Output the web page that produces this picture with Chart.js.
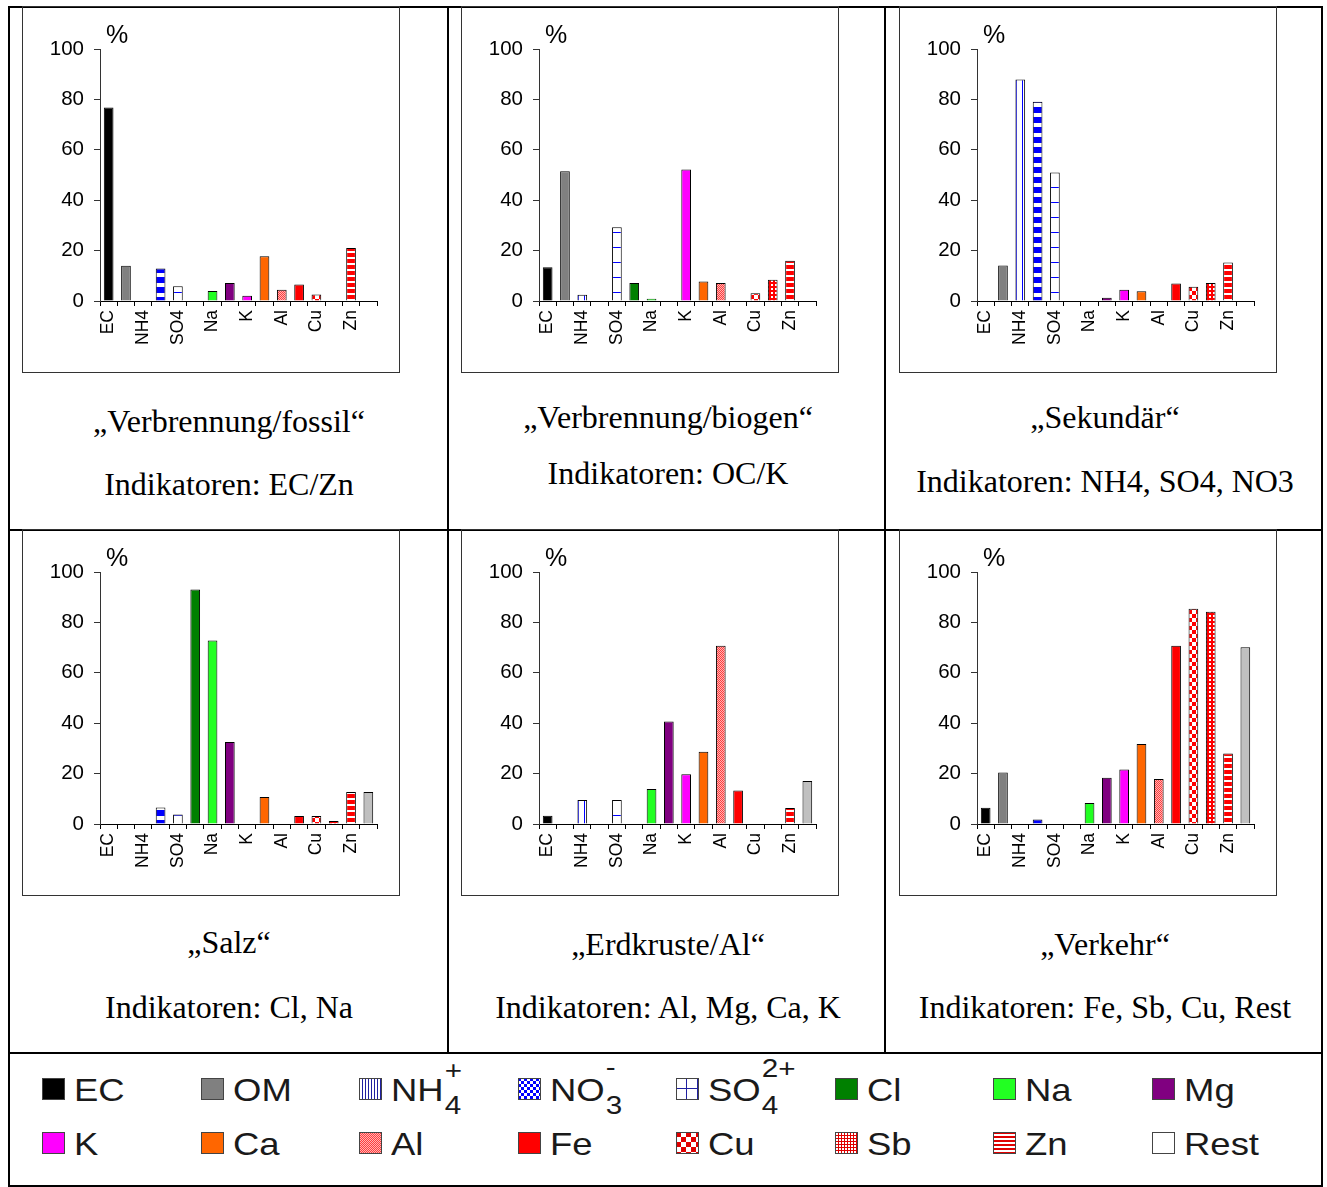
<!DOCTYPE html>
<html>
<head>
<meta charset="utf-8">
<script src="https://cdn.jsdelivr.net/npm/chart.js@4.4.1/dist/chart.umd.min.js"></script>
<style>
body { margin: 0; background: #fff; width: 1327px; height: 1187px; position: relative; overflow: hidden; font-family: "Liberation Sans", Arial, sans-serif; }
.frame { position: absolute; left: 8px; top: 6px; width: 1311px; height: 1177px; border: 2px solid #000; }
.line { position: absolute; background: #000; }
.box { position: absolute; border: 1px solid #333; }
.box canvas { display: block; }
.cap { position: absolute; width: 436px; text-align: center; font-family: "Liberation Serif", "Times New Roman", serif; font-size: 32px; line-height: 32px; color: #000; white-space: nowrap; }
.sw { position: absolute; }
.lt { position: absolute; font-size: 32px; line-height: 32px; color: #1a1a1a; white-space: nowrap; transform: scaleX(1.14); transform-origin: 0 0; }
.ss { position: relative; display: inline-block; width: 18px; height: 1px; }
.ss span { position: absolute; left: 1px; font-size: 26px; line-height: 26px; }
</style>
</head>
<body>
<div class="frame"></div>
<div class="line" style="left:447px;top:6px;width:2px;height:1048px"></div>
<div class="line" style="left:884px;top:6px;width:2px;height:1048px"></div>
<div class="line" style="left:8px;top:529px;width:1315px;height:2px"></div>
<div class="line" style="left:8px;top:1052px;width:1315px;height:2px"></div>
<div id="root"></div>
<script>
const categories = ['EC', 'OM', 'NH4', 'NO3', 'SO4', 'Cl', 'Na', 'Mg', 'K', 'Ca', 'Al', 'Fe', 'Cu', 'Sb', 'Zn', 'Rest']
const tickLabels = ['EC', '', 'NH4', '', 'SO4', '', 'Na', '', 'K', '', 'Al', '', 'Cu', '', 'Zn', '']
const yTicks = [0, 20, 40, 60, 80, 100]

// Anteile in %, null = kein Balken
const fossil    = [76.8, 14.0, null, 12.9, 5.9, null, 4.0, 7.1, 2.1, 17.8, 4.5, 6.5, 2.6, null, 21.0, null]
const biogen    = [13.4, 51.5, 2.5, null, 29.3, 7.1, 0.9, null, 52.2, 7.7, 7.1, null, 3.1, 8.4, 16.0, null]
const sekundaer = [null, 14.1, 87.9, 79.1, 51.0, null, null, 1.3, 4.5, 3.9, null, 6.9, 5.7, 7.1, 15.3, null]
const salz      = [null, null, null, 6.5, 3.8, 93.1, 72.8, 32.5, null, 10.7, null, 3.2, 3.2, 1.2, 12.7, 12.7]
const erdkruste = [3.3, null, 9.5, null, 9.5, null, 13.9, 40.7, 19.7, 28.7, 70.7, 13.3, null, null, 6.3, 17.1]
const verkehr   = [6.4, 20.4, null, 1.8, null, null, 8.3, 18.4, 21.6, 31.7, 17.9, 70.7, 85.4, 84.2, 28.0, 70.1]

function makePattern(w, h, draw) {
    const c = document.createElement('canvas')
    c.width = w; c.height = h
    const g = c.getContext('2d')
    draw(g, w, h)
    return g.createPattern(c, 'repeat')
}

const BLUE = '#0000ff', RED = '#ff0000'
const pat = {
    NH4: makePattern(6, 6, (g) => { g.fillStyle = '#fff'; g.fillRect(0, 0, 6, 6); g.fillStyle = BLUE; g.fillRect(2, 0, 1, 6) }),
    NO3: makePattern(4, 10, (g) => { g.fillStyle = '#fff'; g.fillRect(0, 0, 4, 10); g.fillStyle = BLUE; g.fillRect(0, 0, 4, 6) }),
    SO4: makePattern(15, 15, (g) => { g.fillStyle = '#fff'; g.fillRect(0, 0, 15, 15); g.fillStyle = BLUE; g.fillRect(0, 0, 15, 1); g.fillRect(0, 0, 1, 15) }),
    Al: makePattern(2, 2, (g) => { g.fillStyle = '#ffb4b4'; g.fillRect(0, 0, 2, 2); g.fillStyle = '#ff3c3c'; g.fillRect(0, 0, 1, 1); g.fillRect(1, 1, 1, 1) }),
    Cu: makePattern(8, 8, (g) => { g.fillStyle = '#fff'; g.fillRect(0, 0, 8, 8); g.fillStyle = RED; g.fillRect(0, 0, 4, 4); g.fillRect(4, 4, 4, 4) }),
    Sb: makePattern(4, 4, (g) => { g.fillStyle = RED; g.fillRect(0, 0, 4, 4); g.fillStyle = '#fff'; g.fillRect(1, 1, 2, 2) }),
    Zn: makePattern(4, 6, (g) => { g.fillStyle = '#fff'; g.fillRect(0, 0, 4, 6); g.fillStyle = RED; g.fillRect(0, 0, 4, 4) }),
}

const fills = {
    EC: '#000000', OM: '#808080', NH4: pat.NH4, NO3: pat.NO3, SO4: pat.SO4, Cl: '#008000',
    Na: '#22ff22', Mg: '#800080', K: '#ff00ff', Ca: '#ff6600', Al: pat.Al, Fe: '#ff0000',
    Cu: pat.Cu, Sb: pat.Sb, Zn: pat.Zn, Rest: '#c0c0c0'
}

const panels = [
    { x: 23,  y: 7,   values: fossil,    t1: '„Verbrennung/fossil“', t2: 'Indikatoren: EC/Zn',             cx: 9,   y1: 422, y2: 485 },
    { x: 462, y: 7,   values: biogen,    t1: '„Verbrennung/biogen“', t2: 'Indikatoren: OC/K',              cx: 448, y1: 418, y2: 474 },
    { x: 900, y: 7,   values: sekundaer, t1: '„Sekundär“',           t2: 'Indikatoren: NH4, SO4, NO3',     cx: 885, y1: 418, y2: 482 },
    { x: 23,  y: 530, values: salz,      t1: '„Salz“',               t2: 'Indikatoren: Cl, Na',            cx: 9,   y1: 943, y2: 1008 },
    { x: 462, y: 530, values: erdkruste, t1: '„Erdkruste/Al“',       t2: 'Indikatoren: Al, Mg, Ca, K',     cx: 448, y1: 945, y2: 1008 },
    { x: 900, y: 530, values: verkehr,   t1: '„Verkehr“',            t2: 'Indikatoren: Fe, Sb, Cu, Rest',  cx: 885, y1: 945, y2: 1008 },
]

const percentPlugin = {
    id: 'percentLabel',
    afterDraw(chart) {
        const { ctx, chartArea } = chart
        ctx.save()
        ctx.fillStyle = '#000'
        ctx.font = '25px "Liberation Sans", Arial, sans-serif'
        ctx.textBaseline = 'alphabetic'
        ctx.fillText('%', chartArea.left + 6, chartArea.top - 6)
        ctx.restore()
    }
}

const root = document.getElementById('root')
const W = 376, H = 365, PLOT_TOP = 42, PLOT_H = 252

panels.forEach((p) => {
    const box = document.createElement('div')
    box.className = 'box'
    box.style.left = (p.x - 1) + 'px'
    box.style.top = (p.y - 1) + 'px'
    const cv = document.createElement('canvas')
    cv.width = W; cv.height = H
    box.appendChild(cv)
    root.appendChild(box)

    new Chart(cv.getContext('2d'), {
        type: 'bar',
        data: {
            labels: categories,
            datasets: [{
                data: p.values,
                backgroundColor: categories.map(c => fills[c]),
                borderColor: '#000',
                borderWidth: 1,
                categoryPercentage: 1,
                barPercentage: 0.56,
            }]
        },
        plugins: [percentPlugin],
        options: {
            responsive: false,
            animation: false,
            devicePixelRatio: 1,
            layout: { padding: { top: PLOT_TOP, right: 22, left: 0, bottom: 0 } },
            plugins: { legend: { display: false }, tooltip: { enabled: false } },
            scales: {
                x: {
                    afterFit: (s) => { s.height = H - PLOT_TOP - PLOT_H },
                    grid: { drawOnChartArea: false, tickLength: 5, color: '#000', offset: true },
                    border: { color: '#000', width: 1 },
                    ticks: {
                        autoSkip: false, minRotation: 90, maxRotation: 90, padding: 4, color: '#000',
                        font: { family: '"Liberation Sans", Arial, sans-serif', size: 17.5 },
                        callback: (v, i) => tickLabels[i]
                    }
                },
                y: {
                    min: 0, max: 100,
                    afterFit: (s) => { s.width = 77 },
                    afterBuildTicks: (s) => { s.ticks = yTicks.map(v => ({ value: v })) },
                    grid: { drawOnChartArea: false, tickLength: 6, color: '#333' },
                    border: { color: '#333', width: 1 },
                    ticks: {
                        padding: 10, color: '#000',
                        font: { family: '"Liberation Sans", Arial, sans-serif', size: 20.5 }
                    }
                }
            }
        }
    })

    ;[[p.t1, p.y1], [p.t2, p.y2]].forEach(([txt, cy]) => {
        const d = document.createElement('div')
        d.className = 'cap'
        d.style.left = (p.cx + 2) + 'px'
        d.style.top = (cy - 17) + 'px'
        d.textContent = txt
        root.appendChild(d)
    })
})

// Legende
const legendPat = {
    NH4: makePattern(3, 3, (g) => { g.fillStyle = '#fff'; g.fillRect(0, 0, 3, 3); g.fillStyle = '#2020a0'; g.fillRect(0, 0, 1, 3) }),
    NO3: makePattern(6, 6, (g) => { g.fillStyle = '#fff'; g.fillRect(0, 0, 6, 6); g.fillStyle = BLUE; g.fillRect(0, 0, 3, 3); g.fillRect(3, 3, 3, 3) }),
    SO4: makePattern(11, 11, (g) => { g.fillStyle = '#fff'; g.fillRect(0, 0, 11, 11); g.fillStyle = '#2020a0'; g.fillRect(0, 10, 11, 1); g.fillRect(10, 0, 1, 11) }),
    Cu: makePattern(10, 10, (g) => { g.fillStyle = '#fff'; g.fillRect(0, 0, 10, 10); g.fillStyle = '#e00000'; g.fillRect(0, 0, 5, 5); g.fillRect(5, 5, 5, 5) }),
    Sb: makePattern(3, 3, (g) => { g.fillStyle = '#fff'; g.fillRect(0, 0, 3, 3); g.fillStyle = '#e00000'; g.fillRect(0, 0, 3, 1); g.fillRect(0, 0, 1, 3) }),
    Zn: makePattern(4, 4, (g) => { g.fillStyle = '#fff'; g.fillRect(0, 0, 4, 4); g.fillStyle = '#e00000'; g.fillRect(0, 0, 4, 2) }),
}
const legendItems = [
    ['EC', 'EC'], ['OM', 'OM'], ['NH4', 'NH<span class="ss"><span style="top:-43px">+</span><span style="top:-8px">4</span></span>'],
    ['NO3', 'NO<span class="ss"><span style="top:-46px">-</span><span style="top:-8px">3</span></span>'],
    ['SO4', 'SO<span class="ss" style="width:34px"><span style="top:-45px">2+</span><span style="top:-8px">4</span></span>'],
    ['Cl', 'Cl'], ['Na', 'Na'], ['Mg', 'Mg'],
    ['K', 'K'], ['Ca', 'Ca'], ['Al', 'Al'], ['Fe', 'Fe'], ['Cu', 'Cu'], ['Sb', 'Sb'], ['Zn', 'Zn'], ['Rest', 'Rest'],
]
legendItems.forEach(([key, html], i) => {
    const col = i % 8, row = Math.floor(i / 8)
    const sx = Math.round(42 + col * 158.5), sy = row ? 1132 : 1078
    const c = document.createElement('canvas')
    c.className = 'sw'
    c.width = 23; c.height = 22
    c.style.left = sx + 'px'; c.style.top = sy + 'px'
    const g = c.getContext('2d')
    g.fillStyle = key === 'Rest' ? '#fff' : (legendPat[key] || fills[key])
    g.fillRect(0, 0, 23, 22)
    g.strokeStyle = '#444'
    g.lineWidth = 1
    g.strokeRect(0.5, 0.5, 22, 21)
    root.appendChild(c)
    const t = document.createElement('div')
    t.className = 'lt'
    t.style.left = (sx + 32) + 'px'
    t.style.top = (sy - 4) + 'px'
    t.innerHTML = html
    root.appendChild(t)
})
</script>
</body>
</html>
